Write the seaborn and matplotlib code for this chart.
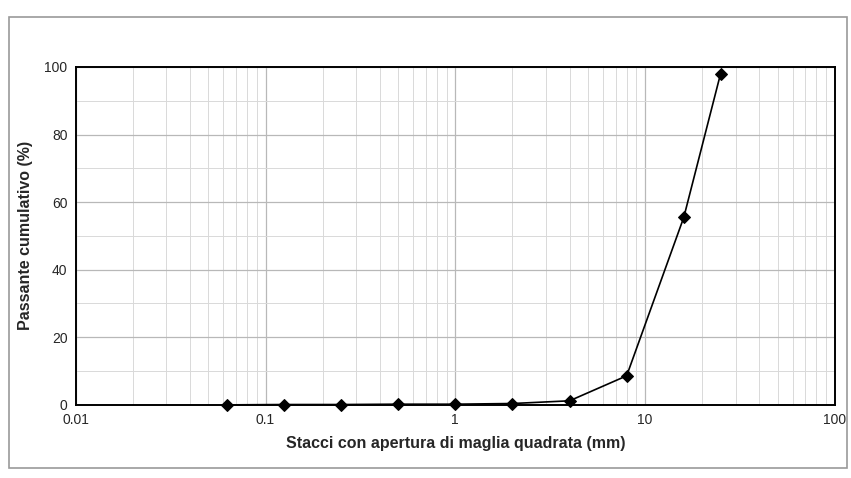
import pandas as pd
import seaborn as sns
import matplotlib.pyplot as plt
from matplotlib.patches import Rectangle
from matplotlib.ticker import FixedLocator, NullFormatter

# === Data ===
sieve_mm = [0.063, 0.125, 0.25, 0.5, 1, 2, 4, 8, 16, 25]
passing_pct = [0.0, 0.1, 0.1, 0.2, 0.2, 0.4, 1.2, 8.6, 55.5, 98.0]
x_ticks = [0.01, 0.1, 1, 10, 100]
x_tick_labels = ["0.01", "0.1", "1", "10", "100"]
y_ticks = [0, 20, 40, 60, 80, 100]

df = pd.DataFrame({"sieve": sieve_mm, "passing": passing_pct})

# === Plot ===
sns.set_theme(style="white")
plt.rcParams["font.family"] = ["Liberation Sans", "DejaVu Sans"]

fig = plt.figure(figsize=(8.51, 4.78), dpi=100)
ax = fig.add_axes([0.089, 0.153, 0.892, 0.707])

sns.lineplot(
    data=df, x="sieve", y="passing", ax=ax,
    color="black", linewidth=1.2, marker="D", markersize=6,
    markeredgecolor="black", markerfacecolor="black", clip_on=False,
)

ax.set_xscale("log")
ax.set_xlim(0.01, 100)
ax.set_ylim(0, 100)

ax.xaxis.set_major_locator(FixedLocator(x_ticks))
ax.set_xticklabels(x_tick_labels)
minor = [m * 10.0 ** e for e in range(-2, 2) for m in range(2, 10)]
ax.xaxis.set_minor_locator(FixedLocator(minor))
ax.xaxis.set_minor_formatter(NullFormatter())
ax.set_yticks(y_ticks)
ax.set_yticks(range(0, 101, 10), minor=True)

ax.grid(which="major", color="#b8b8b8", linewidth=0.9)
ax.grid(which="minor", color="#d9d9d9", linewidth=0.7)
ax.set_axisbelow(True)

for s in ax.spines.values():
    s.set_color("black")
    s.set_linewidth(1.4)

ax.tick_params(axis="both", which="major", labelsize=10, length=0, pad=6)
ax.tick_params(axis="both", which="minor", length=0)

ax.set_xlabel("Stacci con apertura di maglia quadrata (mm)",
              fontsize=11.5, fontweight="bold", labelpad=6)
ax.set_ylabel("Passante cumulativo (%)", fontsize=11.5, fontweight="bold", labelpad=8)

# outer frame of the scanned chart
fig.patches.append(Rectangle((0.01, 0.02), 0.985, 0.945, transform=fig.transFigure,
                             fill=False, edgecolor="#9a9a9a", linewidth=1.2))

fig.savefig("out.png", dpi=100)
